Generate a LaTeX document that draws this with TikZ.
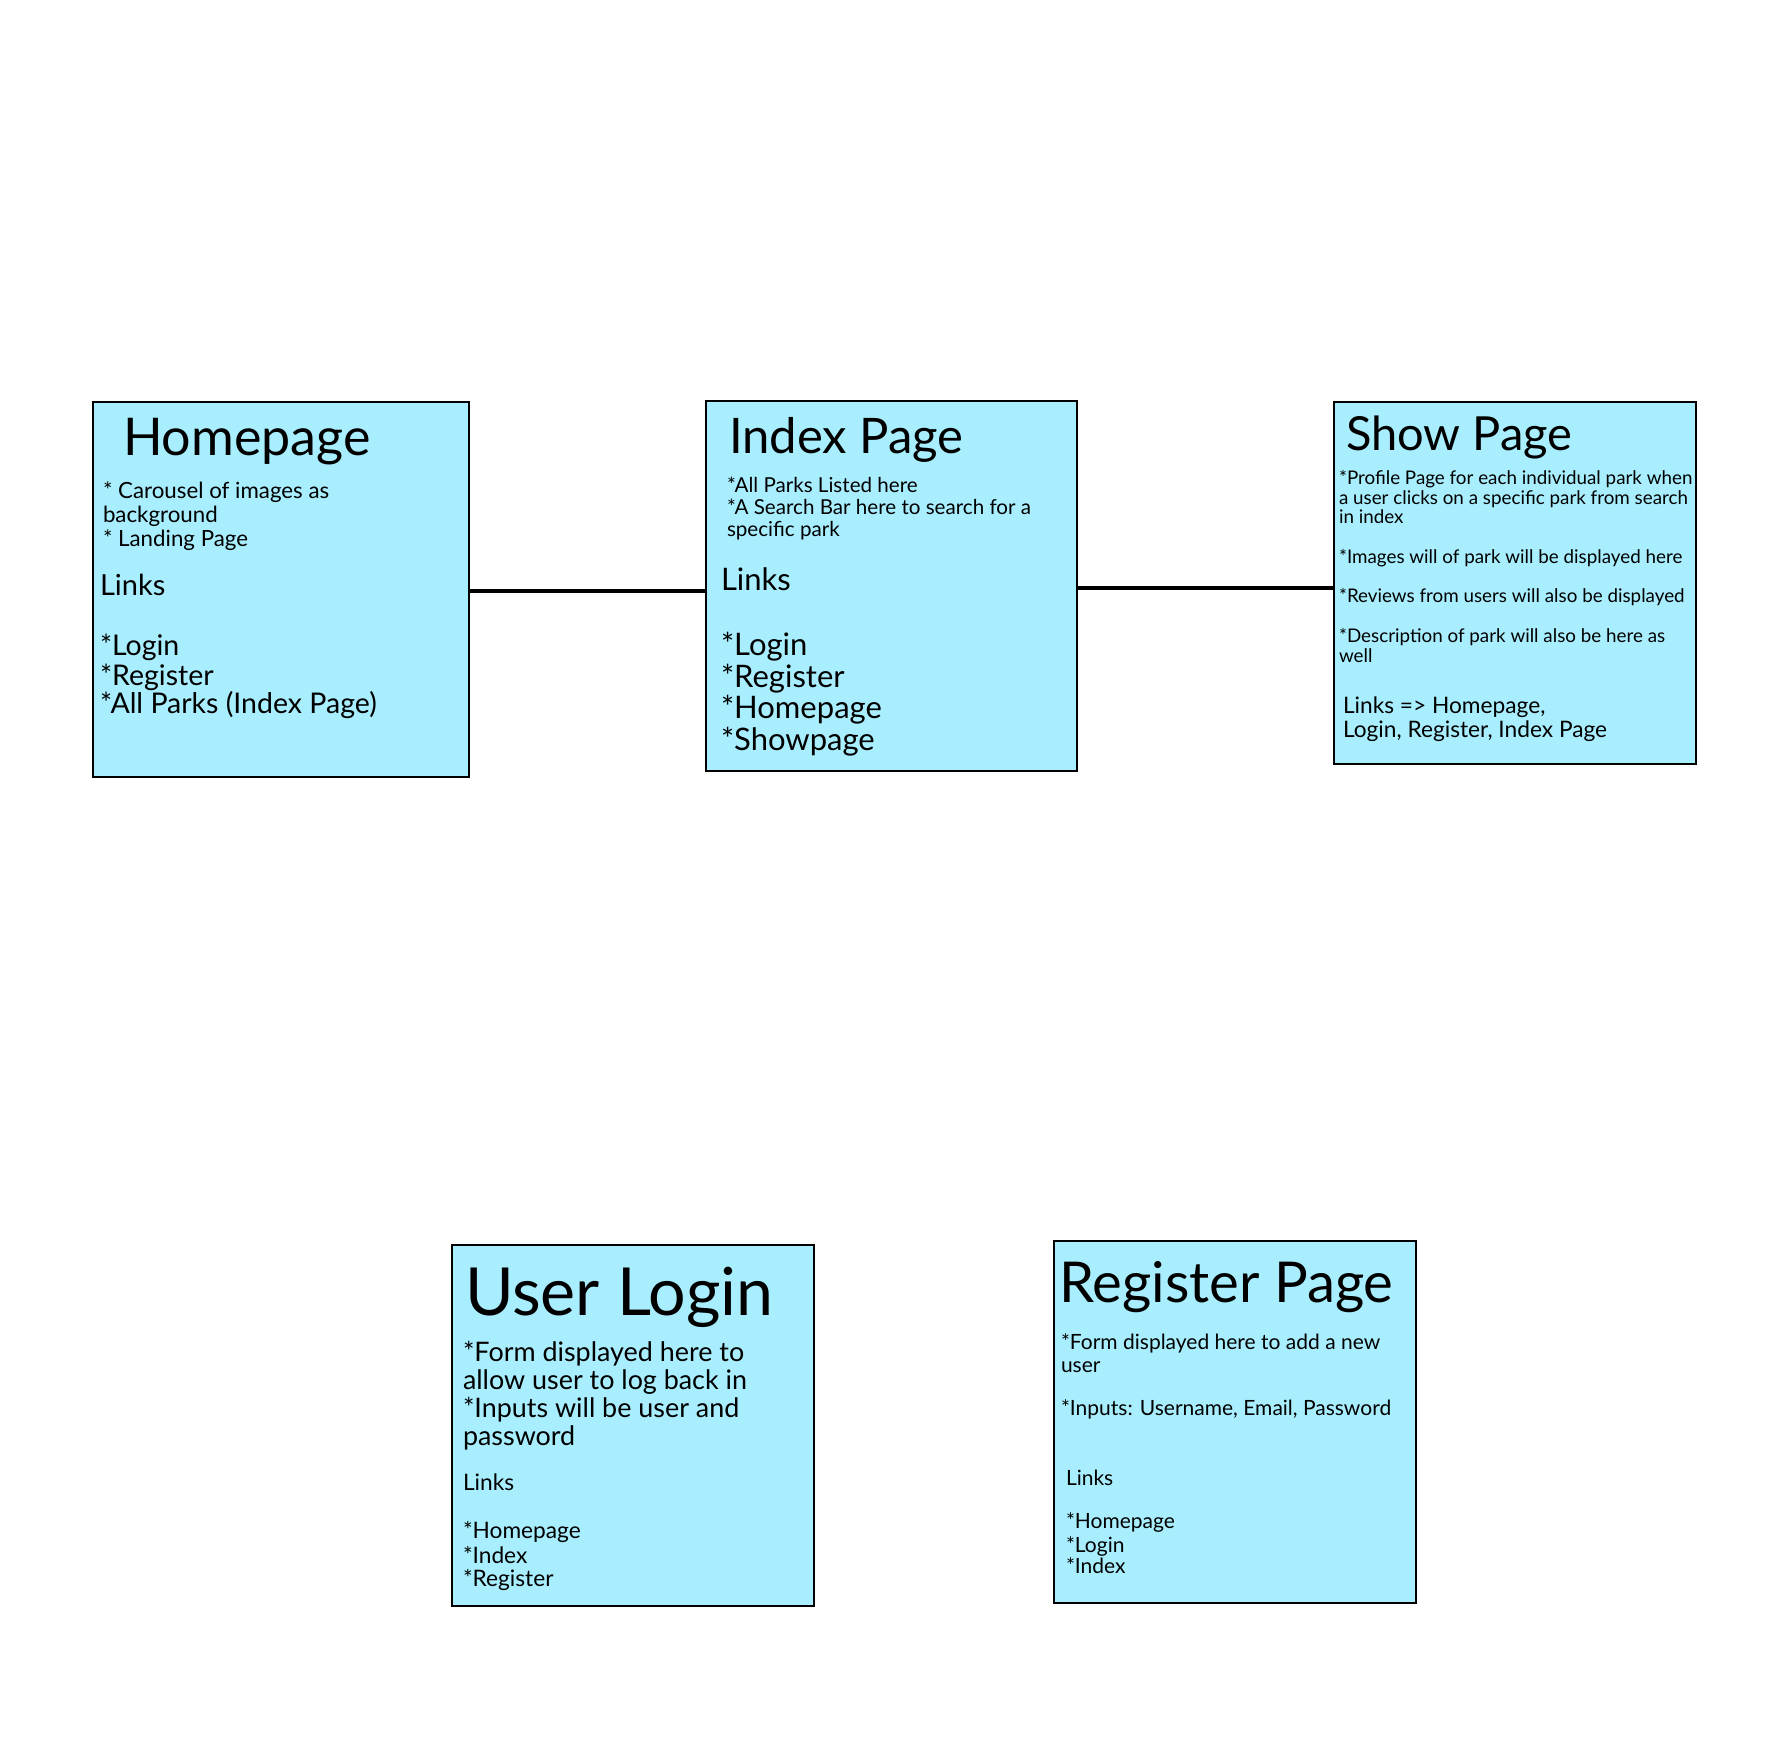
\documentclass[tikz,border=0pt]{standalone}
\usepackage{fontspec}
\setmainfont{Lato}
\newcommand\fsz[1]{\fontsize{#1}{#1}\selectfont}
\newcommand\txtline[5]{\node[txt, font=\fsz{#4}] (#1) at (#2,#3) {#5};}
\definecolor{boxfill}{RGB}{168,238,254}
\tikzset{
  pagebox/.style={draw=black, fill=boxfill, line width=2.2pt, inner sep=0pt, outer sep=0pt, anchor=north west},
  conn/.style={draw=black, line width=3.2pt},
  txt/.style={anchor=base west, inner sep=0pt, outer sep=0pt, text=black}
}
\begin{document}
\begin{tikzpicture}[x=1pt,y=-1pt]
\useasboundingbox (0,0) rectangle (1766,1762);
% boxes
\node[pagebox, minimum width=376pt, minimum height=375pt] (home) at (93,402) {};
\node[pagebox, minimum width=371pt, minimum height=370pt] (index) at (706,401) {};
\node[pagebox, minimum width=362pt, minimum height=362pt] (show) at (1334,402) {};
\node[pagebox, minimum width=362pt, minimum height=361pt] (login) at (452,1245) {};
\node[pagebox, minimum width=362pt, minimum height=362pt] (register) at (1054,1241) {};
% connectors
\draw[conn] ([yshift=-1.5pt]home.east) -- ([yshift=-1.5pt]home.east -| index.west);
\draw[conn] ([yshift=-2pt]index.east) -- ([yshift=-2pt]index.east -| show.west);
% Homepage
\txtline{h0}{123}{455}{52}{Homepage}
\txtline{h1}{103}{498}{22.3}{* Carousel of images as}
\txtline{h2}{103}{522}{22.3}{background}
\txtline{h3}{103}{546}{22.3}{* Landing Page}
\txtline{h4}{100}{595}{29}{Links}
\txtline{h5}{100}{655}{28.5}{*Login}
\txtline{h6}{100}{685}{28.5}{*Register}
\txtline{h7}{100}{713}{28.5}{*All Parks (Index Page)}
% Index Page
\txtline{i0}{729}{453}{49}{Index Page}
\txtline{i1}{727}{492}{20.6}{*All Parks Listed here}
\txtline{i2}{727}{514}{20.6}{*A Search Bar here to search for a}
\txtline{i3}{727}{536}{20.6}{specific park}
\txtline{i4}{721}{590}{31}{Links}
\txtline{i5}{721}{655}{31}{*Login}
\txtline{i6}{721}{687}{31}{*Register}
\txtline{i7}{721}{718}{31}{*Homepage}
\txtline{i8}{721}{750}{31}{*Showpage}
% Show Page
\txtline{s0}{1346}{450}{47}{Show Page}
\txtline{s1}{1339}{484}{18.8}{*Profile Page for each individual park when}
\txtline{s2}{1339}{504}{18.8}{a user clicks on a specific park from search}
\txtline{s3}{1339}{523}{18.8}{in index}
\txtline{s4}{1339}{563}{18.8}{*Images will of park will be displayed here}
\txtline{s5}{1339}{602}{18.8}{*Reviews from users will also be displayed}
\txtline{s6}{1339}{642}{18.8}{*Description of park will also be here as}
\txtline{s7}{1339}{662}{18.8}{well}
\txtline{s8}{1343}{713}{22.7}{Links => Homepage,}
\txtline{s9}{1343}{737}{22.7}{Login, Register, Index Page}
% User Login
\txtline{u0}{465}{1315}{66.3}{User Login}
\txtline{u1}{463}{1361}{26.9}{*Form displayed here to}
\txtline{u2}{463}{1389}{26.9}{allow user to log back in}
\txtline{u3}{463}{1417}{26.9}{*Inputs will be user and}
\txtline{u4}{463}{1445}{26.9}{password}
\txtline{u5}{463}{1490}{22.7}{Links}
\txtline{u6}{463}{1538}{22.7}{*Homepage}
\txtline{u7}{463}{1563}{22.7}{*Index}
\txtline{u8}{463}{1586}{22.7}{*Register}
% Register Page
\txtline{r0}{1059}{1302}{56.3}{Register Page}
\txtline{r1}{1061}{1349}{21}{*Form displayed here to add a new}
\txtline{r2}{1061}{1372}{21}{user}
\txtline{r3}{1061}{1415}{21}{*Inputs: Username, Email, Password}
\txtline{r4}{1066}{1485}{21}{Links}
\txtline{r5}{1066}{1528}{21}{*Homepage}
\txtline{r6}{1066}{1552}{21}{*Login}
\txtline{r7}{1066}{1573}{21}{*Index}
\end{tikzpicture}
\end{document}
